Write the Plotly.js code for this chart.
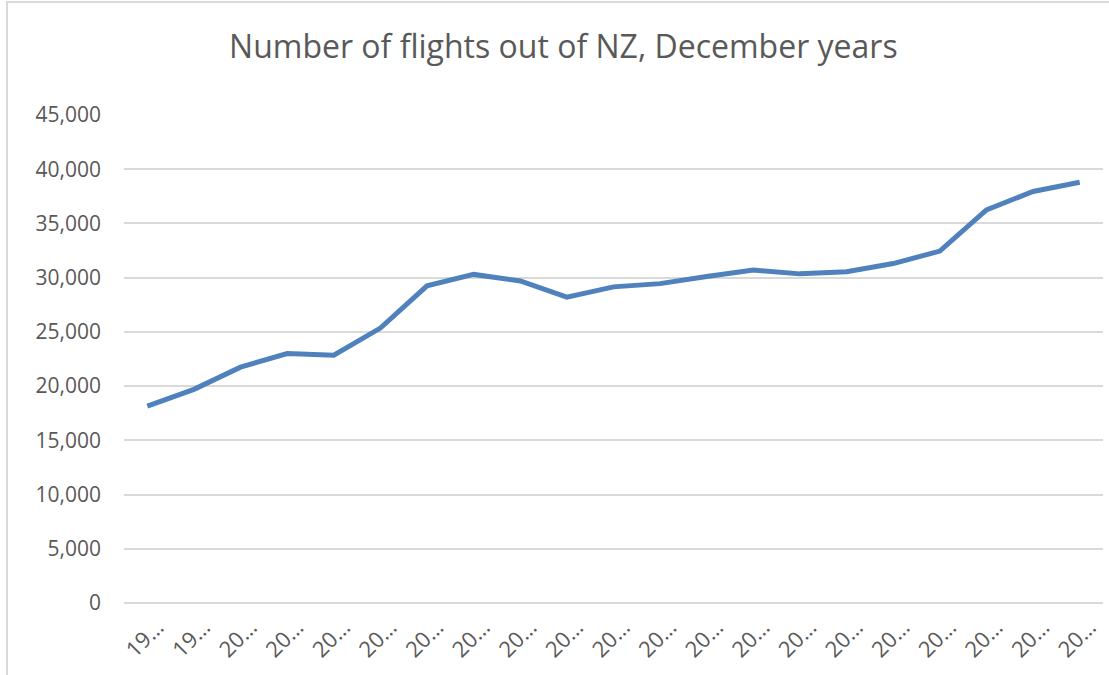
<!DOCTYPE html>
<html>
<head>
<meta charset="utf-8">
<script src="https://cdn.plot.ly/plotly-3.0.1.min.js"></script>
<style>
html,body{margin:0;padding:0;background:#fff;}
#wrap{position:relative;width:1109px;height:675px;}
#chart{width:1109px;height:675px;}
#frame{position:absolute;left:6px;top:1px;width:1120px;height:700px;border:2px solid #d9d9d9;pointer-events:none;box-sizing:border-box;}
</style>
</head>
<body>
<div id="wrap"><div id="chart"></div><div id="frame"></div></div>
<script>
const years = [1998,1999,2000,2001,2002,2003,2004,2005,2006,2007,2008,2009,2010,2011,2012,2013,2014,2015,2016,2017,2018];
const tickLabels = ["19…","19…","20…","20…","20…","20…","20…","20…","20…","20…","20…","20…","20…","20…","20…","20…","20…","20…","20…","20…","20…"];
const flights = [18150,19700,21750,23000,22850,25350,29250,30300,29700,28200,29150,29450,30100,30700,30350,30550,31300,32450,36250,37950,38800];
const yTicks = [0,5000,10000,15000,20000,25000,30000,35000,40000,45000];
const yTickText = ["0","5,000","10,000","15,000","20,000","25,000","30,000","35,000","40,000","45,000"];

const trace = {
  x: years.map(String),
  y: flights,
  type: 'scatter',
  mode: 'lines',
  line: {color: '#4f81bd', width: 5, shape: 'linear'},
  hoverinfo: 'y'
};

const layout = {
  width: 1109,
  height: 675,
  margin: {l: 124, r: 6, t: 115, b: 72},
  paper_bgcolor: '#ffffff',
  plot_bgcolor: '#ffffff',
  showlegend: false,
  title: {
    text: 'Number of flights out of NZ, December years',
    font: {family: 'Open Sans, sans-serif', size: 32, color: '#595959'},
    x: 0.508, xanchor: 'center', xref: 'container', y: 0.93, yanchor: 'middle', yref: 'container'
  },
  xaxis: {
    type: 'category',
    tickmode: 'array',
    tickvals: years.map(String),
    ticktext: tickLabels,
    tickangle: -45,
    showgrid: false,
    zeroline: false,
    showline: false,
    ticks: '',
    ticklen: 0,
    ticklabelshift: 10,
    ticklabelstandoff: 6,
    tickfont: {family: 'Open Sans, sans-serif', size: 22, color: '#595959'},
    range: [-0.5, 20.5],
    fixedrange: true
  },
  yaxis: {
    range: [0, 45000],
    tickmode: 'array',
    tickvals: yTicks,
    ticktext: yTickText,
    showgrid: true,
    gridcolor: '#d9d9d9',
    gridwidth: 2,
    zeroline: true,
    zerolinecolor: '#d9d9d9',
    zerolinewidth: 2,
    showline: false,
    ticks: '',
    ticklabelstandoff: 22,
    tickfont: {family: 'Open Sans, sans-serif', size: 21, color: '#595959'},
    fixedrange: true
  }
};

Plotly.newPlot('chart', [trace], layout, {displayModeBar: false, staticPlot: true});
</script>
</body>
</html>
